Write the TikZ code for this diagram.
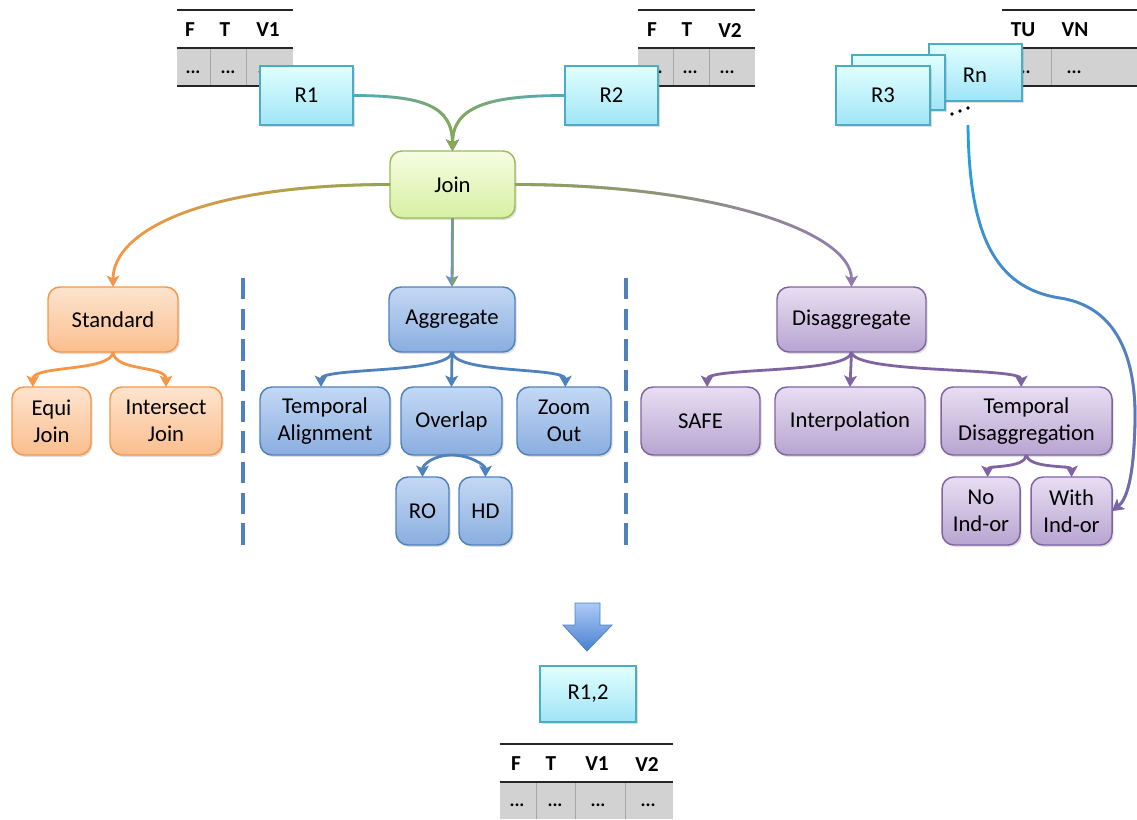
\documentclass[tikz,border=0pt]{standalone}
\usepackage{fontspec}
\setmainfont{Carlito}
\usetikzlibrary{arrows.meta,shadows,fadings}

% colour ramps for connectors that change hue along their length
\tikzfading[name=fadeLR, left color=transparent!100, right color=transparent!0]
\tikzfading[name=fadeRL, left color=transparent!0, right color=transparent!100]
\tikzfading[name=fadeTB, top color=transparent!100, bottom color=transparent!0]

\definecolor{cyanB}{HTML}{4BACC6}
\definecolor{greenB}{HTML}{9BBB59}
\definecolor{orangeB}{HTML}{F79646}
\definecolor{blueB}{HTML}{4F81BD}
\definecolor{purpleB}{HTML}{8064A2}
\definecolor{linkB}{HTML}{1FA3E4}
\definecolor{cellgray}{HTML}{D2D2D2}

\tikzset{
  base/.style={draw, line width=1.1pt, inner sep=0pt, outer sep=0pt, align=center,
    font=\fontsize{17}{20}\selectfont,
    drop shadow={opacity=0.25, shadow xshift=1.2pt, shadow yshift=-1.5pt}},
  rel/.style={base, draw=cyanB, top color=cyan!12, bottom color={rgb,255:red,160;green,228;blue,246}},
  joinbox/.style={base, rounded corners=9pt, draw=greenB, top color={rgb,255:red,246;green,253;blue,226}, bottom color={rgb,255:red,214;green,240;blue,162}},
  obox/.style={base, rounded corners=9pt, draw=orangeB, top color={rgb,255:red,253;green,228;blue,206}, bottom color={rgb,255:red,251;green,190;blue,142}},
  bbox/.style={base, rounded corners=9pt, draw=blueB, top color={rgb,255:red,196;green,216;blue,244}, bottom color={rgb,255:red,138;green,174;blue,224}},
  pbox/.style={base, rounded corners=9pt, draw=purpleB, top color={rgb,255:red,232;green,222;blue,242}, bottom color={rgb,255:red,184;green,164;blue,208}},
  conn/.style={line width=2.1pt, -{Stealth[length=8.5pt,width=9.5pt,inset=2pt]}},
  thead/.style={font=\fontsize{16}{18}\bfseries\selectfont, inner sep=0pt},
  tdots/.style={font=\fontsize{14}{16}\bfseries\selectfont, inner sep=0pt},
  trule/.style={line width=1.5pt, black!85},
  tsep/.style={line width=0.5pt, black!35},
  divider/.style={line width=2.4pt, blueB, dash pattern=on 16pt off 7pt},
}

% \mkbox{style}{x1}{y1}{x2}{y2}{name}{text}
\newcommand{\mkbox}[7]{%
  \node[#1, minimum width={(#4-#2)*0.75pt}, minimum height={(#5-#3)*0.75pt}]
    (#6) at ({(#2+#4)/2},{(#3+#5)/2}) {#7};}

\begin{document}
\begin{tikzpicture}[x=0.75pt,y=-0.75pt]
\useasboundingbox (0,0) rectangle (1137,819);

% ---------- input tables ----------
% R1 schema
\fill[cellgray] (177,48) rectangle (293,86);
\draw[tsep] (210,48) -- (210,86) (246,48) -- (246,86);
\draw[trule] (177,10) -- (293,10) (177,48) -- (293,48) (177,86) -- (293,86);
\node[thead] (h1f) at (190,30) {F};
\node[thead] (h1t) at (225,30) {T};
\node[thead] (h1v) at (268,30) {V1};
\node[tdots] (d1a) at (193,72) {...};
\node[tdots] (d1b) at (228,72) {...};
\node[tdots] (d1c) at (265,72) {...};

% R2 schema
\fill[cellgray] (638,48) rectangle (755,86);
\draw[tsep] (673,48) -- (673,86) (709,48) -- (709,86);
\draw[trule] (638,10) -- (755,10) (638,48) -- (755,48) (638,86) -- (755,86);
\node[thead] (h2f) at (652,30) {F};
\node[thead] (h2t) at (687,30) {T};
\node[thead] (h2v) at (730,30) {V2};
\node[tdots] (d2a) at (655,72) {...};
\node[tdots] (d2b) at (690,72) {...};
\node[tdots] (d2c) at (727,72) {...};

% Rn schema
\fill[cellgray] (1000,48) rectangle (1137,86);
\draw[tsep] (1051,48) -- (1051,86);
\draw[trule] (1002,10) -- (1137,10) (1000,48) -- (1137,48) (1000,86) -- (1137,86);
\node[thead] (hnu) at (1023,30) {TU};
\node[thead] (hnv) at (1075,30) {VN};
\node[tdots] (dna) at (1023,72) {...};
\node[tdots] (dnb) at (1074,72) {...};

% ---------- relations ----------
\mkbox{rel}{260}{66}{353}{125}{r1}{R1}
\mkbox{rel}{565}{66}{658}{125}{r2}{R2}
\mkbox{rel}{929}{44}{1022}{101}{rn}{}
\node[font=\fontsize{17}{20}\selectfont] (rnlab) at (975,75) {Rn};
\mkbox{rel}{852}{55}{945}{110}{rmid}{}
\mkbox{rel}{836}{66}{930}{125}{r3}{R3}
\fill (952,114) circle (1.8) (960,111) circle (1.8) (968,108) circle (1.8);
\coordinate (stackout) at (968,125);

% ---------- operators ----------
\mkbox{joinbox}{390}{151}{515}{218}{join}{Join}

\mkbox{obox}{48}{287}{178}{352}{std}{Standard}
\mkbox{obox}{12}{387}{91}{455}{equi}{Equi\\Join}
\mkbox{obox}{110}{387}{222}{455}{inter}{Intersect\\Join}

\mkbox{bbox}{389}{287}{515}{352}{agg}{Aggregate}
\mkbox{bbox}{260}{387}{390}{455}{talign}{Temporal\\Alignment}
\mkbox{bbox}{401}{387}{502}{455}{overlap}{Overlap}
\mkbox{bbox}{517}{387}{611}{455}{zoom}{Zoom\\Out}
\mkbox{bbox}{396}{477}{449}{545}{ro}{RO}
\mkbox{bbox}{459}{477}{512}{545}{hd}{HD}

\mkbox{pbox}{777}{287}{926}{352}{dis}{Disaggregate}
\mkbox{pbox}{641}{387}{760}{455}{safe}{SAFE}
\mkbox{pbox}{775}{387}{925}{455}{interp}{Interpolation}
\mkbox{pbox}{941}{387}{1112}{455}{tdis}{Temporal\\Disaggregation}
\mkbox{pbox}{942}{477}{1020}{545}{noind}{No\\Ind-or}
\mkbox{pbox}{1031}{477}{1112}{545}{withind}{With\\Ind-or}

% ---------- dividers ----------
\coordinate (dv1a) at (243,278); \coordinate (dv1b) at (243,552);
\coordinate (dv2a) at (626,278); \coordinate (dv2b) at (626,552);
\draw[divider] (dv1a) -- (dv1b);
\draw[divider] (dv2a) -- (dv2b);

% ---------- inputs into Join ----------
\draw[conn, cyanB] (r1.east) .. controls +(70,0) and +(0,-45) .. (join.north);
\draw[conn, greenB!90!black, path fading=fadeLR] (r1.east) .. controls +(70,0) and +(0,-45) .. (join.north);
\draw[conn, cyanB] (r2.west) .. controls +(-75,0) and +(0,-45) .. (join.north);
\draw[conn, greenB!90!black, path fading=fadeRL] (r2.west) .. controls +(-75,0) and +(0,-45) .. (join.north);

% ---------- Join into its three families ----------
\draw[conn, orangeB] (join.west) .. controls +(-190,0) and +(0,-55) .. (std.north);
\draw[conn, greenB!90!black, path fading=fadeLR] (join.west) .. controls +(-190,0) and +(0,-55) .. (std.north);
\draw[conn, blueB!85] (join.south) -- (agg.north);
\draw[conn, greenB!90!black, path fading=fadeTB, path fading=fadeLR, fit fading=true]
  (join.south) -- (agg.north);
\draw[conn, purpleB!85] (join.east) .. controls +(200,0) and +(0,-55) .. (dis.north);
\draw[conn, greenB!90!black, path fading=fadeRL] (join.east) .. controls +(200,0) and +(0,-55) .. (dis.north);

% ---------- Standard ----------
\draw[conn, orangeB] (std.south) .. controls +(-2,20) and +(0,-22) .. ([xshift=-14]equi.north);
\draw[conn, orangeB] (std.south) .. controls +(2,20) and +(0,-22) .. ([xshift=0]inter.north);

% ---------- Aggregate ----------
\draw[conn, blueB] (agg.south) .. controls +(-2,22) and +(0,-20) .. ([xshift=-3]talign.north);
\draw[conn, blueB] (agg.south) -- (overlap.north);
\draw[conn, blueB] (agg.south) .. controls +(2,22) and +(0,-20) .. ([xshift=1]zoom.north);
\draw[conn, blueB] (overlap.south) .. controls +(-18,0) and +(0,-12) .. (ro.north);
\draw[conn, blueB] (overlap.south) .. controls +(18,0) and +(0,-12) .. (hd.north);

% ---------- Disaggregate ----------
\draw[conn, purpleB] (dis.south) .. controls +(-2,22) and +(0,-20) .. ([xshift=5]safe.north);
\draw[conn, purpleB] (dis.south) -- (interp.north);
\draw[conn, purpleB] (dis.south) .. controls +(2,22) and +(0,-20) .. ([xshift=-4]tdis.north);
\draw[conn, purpleB] (tdis.south) .. controls +(-2,14) and +(0,-12) .. ([xshift=5]noind.north);
\draw[conn, purpleB] (tdis.south) .. controls +(2,14) and +(0,-12) .. (withind.north);

% ---------- further relations reach the indicator variant ----------
\draw[conn, linkB] (stackout) .. controls (969,235) and (995,288) .. (1060,298)
  .. controls (1112,306) and (1136,350) .. (1135,420)
  .. controls (1134,480) and (1126,500) .. (withind.east);
\draw[conn, purpleB, path fading=fadeTB] (stackout) .. controls (969,235) and (995,288) .. (1060,298)
  .. controls (1112,306) and (1136,350) .. (1135,420)
  .. controls (1134,480) and (1126,500) .. (withind.east);

% ---------- result ----------
\path[draw=blueB, line width=0.6pt, top color={rgb,255:red,172;green,202;blue,246}, bottom color={rgb,255:red,74;green,128;blue,208}]
  (575,603) -- (600,603) -- (600,625) -- (612,625) -- (587,651) -- (563,625) -- (575,625) -- cycle;

\mkbox{rel}{540}{666}{636}{722}{r12}{R1,2}

\fill[cellgray] (500,782) rectangle (673,819);
\draw[tsep] (536,782) -- (536,819) (575,782) -- (575,819) (625,782) -- (625,819);
\draw[trule] (500,744) -- (673,744) (500,782) -- (673,782);
\node[thead] (h3f) at (516,764) {F};
\node[thead] (h3t) at (551,764) {T};
\node[thead] (h3a) at (597,764) {V1};
\node[thead] (h3b) at (647,764) {V2};
\node[tdots] (d3a) at (517,805) {...};
\node[tdots] (d3b) at (555,805) {...};
\node[tdots] (d3c) at (598,805) {...};
\node[tdots] (d3d) at (648,805) {...};
\end{tikzpicture}
\end{document}
